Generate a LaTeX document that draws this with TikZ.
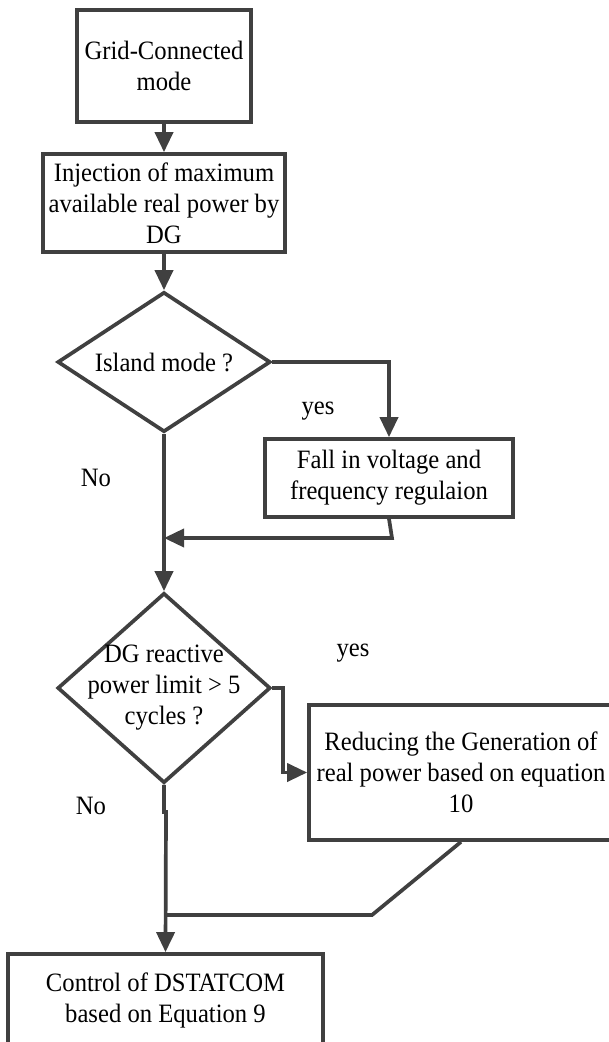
\documentclass[tikz,border=0pt]{standalone}
\usepackage{fontspec}
\setmainfont{Liberation Serif}[FakeStretch=0.93]
\usetikzlibrary{arrows.meta,shapes.geometric}
\definecolor{ln}{HTML}{404040}
\begin{document}
\begin{tikzpicture}[x=1pt,y=-1pt,
 every node/.style={font=\fontsize{26.5}{31}\selectfont, align=center, inner sep=0pt},
 box/.style={draw=ln, line width=3.7pt, rectangle},
 dia/.style={draw=ln, line width=3.7pt, diamond},
 conn/.style={draw=ln, line width=3.7pt},
 arr/.style={conn, -{Triangle[length=20pt,width=18pt]}}]
\useasboundingbox (0,0) rectangle (609,1042);
\clip (0,0) rectangle (609,1042);
\fill[white] (0,0) rectangle (609,1042);
\node[box, minimum width=174pt, minimum height=112pt] (b1) at (164,66) {Grid-Connected\\mode};
\node[box, minimum width=242pt, minimum height=98pt] (b2) at (164,203) {Injection of maximum\\available real power by\\DG};
\node[dia, minimum width=213pt, minimum height=140pt] (d1) at (164,362) {};
\node (t1) at (d1) {Island mode ?};
\node[box, minimum width=248pt, minimum height=78pt] (b3) at (389,478) {Fall in voltage and\\frequency regulaion};
\node[dia, minimum width=213pt, minimum height=190pt] (d2) at (164,688) {};
\node (t2) at (d2) {DG reactive\\power limit > 5\\cycles ?};
\node[box, minimum width=304pt, minimum height=135pt] (b4) at (461,772.5) {Reducing the Generation of\\real power based on equation\\10};
\node[box, minimum width=315pt, minimum height=92pt] (b5) at (165.5,1000) {Control of DSTATCOM\\based on Equation 9};
\node (y1) at (318,411) {yes};
\node (n1) at (96,478) {No};
\node (y2) at (353,653) {yes};
\node (n2) at (91,806) {No};
\coordinate (m1) at (164,538);
\coordinate (r1) at (392,538);
\coordinate (j1) at (283,688);
\coordinate (s1) at (164,812);
\coordinate (s2) at (166,812);
\coordinate (c1) at (372,915);
\coordinate (c2) at (166,915);
\draw[arr] (b1) -- (b2);
\draw[arr] (b2) -- (d1);
\draw[arr] (d1.east) -| (b3.north);
\draw[arr] (b3.south) -- (r1) -- (m1);
\draw[arr] (d1.south) -- (d2.north);
\draw[arr] (d2.east) -- (j1) |- (b4.west);
\draw[arr] (d2.south) -- (s1) -- (s2) -- (b5.north);
\draw[conn] (b4.south) -- (c1) -- (c2);
\end{tikzpicture}
\end{document}
